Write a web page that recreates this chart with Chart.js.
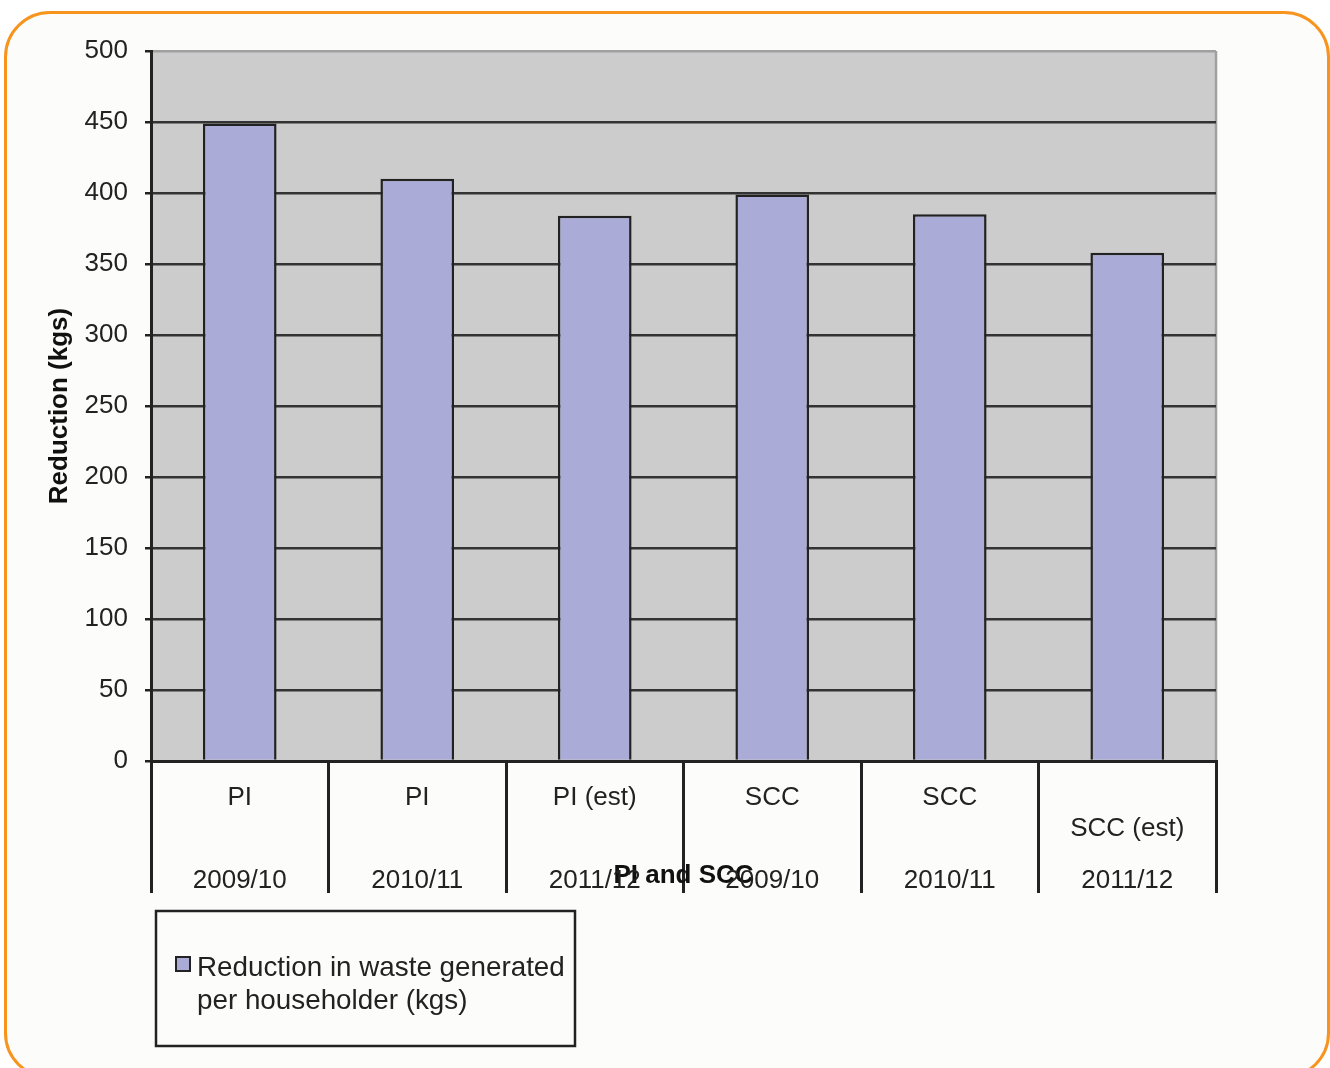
<!DOCTYPE html>
<html>
<head>
<meta charset="utf-8">
<script src="https://cdn.jsdelivr.net/npm/chart.js@4/dist/chart.umd.min.js"></script>
<style>
  html, body { margin: 0; padding: 0; background: #ffffff; overflow: hidden; }
  #frame {
    position: absolute; left: 4px; top: 11px; width: 1320px; height: 1062px;
    border: 3px solid #f7941e; border-radius: 46px; background: #fcfcfa;
  }
  #c { position: absolute; left: 0; top: 0; }
</style>
</head>
<body>
<div id="frame"></div>
<canvas id="c" width="1330" height="1068"></canvas>
<script>
// ---- data ----
const groups = ["PI", "PI", "PI (est)", "SCC", "SCC", "SCC (est)"];
const years = ["2009/10", "2010/11", "2011/12", "2009/10", "2010/11", "2011/12"];
const values = [449, 410, 384, 399, 385, 358];
const seriesLabel = "Reduction in waste generated per householder (kgs)";
const yTitle = "Reduction (kgs)";
const xTitle = "PI and SCC";

// multi-line category labels (group on top, year at bottom)
const labels = groups.map((g, i) => {
  const lines = new Array(9).fill("");
  lines[g === "SCC (est)" ? 3 : 0] = g;
  lines[8] = years[i];
  return lines;
});

const FONT = "'Liberation Sans', Arial, Helvetica, sans-serif";
const BAR = "#aaabd6";
const INK = "#222222";

const plotBg = {
  id: "plotBg",
  beforeDraw(chart) {
    const { ctx, chartArea: a } = chart;
    ctx.save();
    ctx.fillStyle = "#cccccc";
    ctx.fillRect(a.left, a.top, a.right - a.left, a.bottom - a.top);
    ctx.strokeStyle = "#a0a0a0";
    ctx.lineWidth = 2.5;
    ctx.beginPath();
    ctx.moveTo(a.right, a.top);
    ctx.lineTo(a.right, a.bottom);
    ctx.stroke();
    ctx.restore();
  }
};

const boxLegend = {
  id: "boxLegend",
  afterDraw(chart) {
    const { ctx, chartArea: a } = chart;
    const ds = chart.data.datasets[0];
    const x = a.left + 5, y = a.bottom + 150, w = 419, h = 135;
    ctx.save();
    ctx.fillStyle = "#fcfcfa";
    ctx.fillRect(x, y, w, h);
    ctx.strokeStyle = INK;
    ctx.lineWidth = 2.5;
    ctx.strokeRect(x, y, w, h);
    // swatch
    ctx.fillStyle = ds.backgroundColor;
    ctx.fillRect(x + 20, y + 46, 14, 14);
    ctx.lineWidth = 2;
    ctx.strokeRect(x + 20, y + 46, 14, 14);
    // wrapped text
    ctx.font = "27.8px " + FONT;
    ctx.fillStyle = INK;
    ctx.textBaseline = "alphabetic";
    const words = ds.label.split(" ");
    const lines = [];
    let cur = "";
    words.forEach(wd => {
      const t = cur ? cur + " " + wd : wd;
      if (ctx.measureText(t).width > 385 && cur) { lines.push(cur); cur = wd; }
      else cur = t;
    });
    if (cur) lines.push(cur);
    lines.forEach((ln, i) => ctx.fillText(ln, x + 41, y + 65 + i * 33));
    ctx.restore();
  }
};

new Chart(document.getElementById("c"), {
  type: "bar",
  data: {
    labels: labels,
    datasets: [{
      label: seriesLabel,
      data: values,
      backgroundColor: BAR,
      borderColor: INK,
      borderWidth: 2.5,
      categoryPercentage: 1.0,
      barPercentage: 0.415
    }]
  },
  options: {
    responsive: false,
    devicePixelRatio: 1,
    animation: false,
    layout: { padding: { top: 51, right: 114, left: 0, bottom: 0 } },
    plugins: { legend: { display: false }, tooltip: { enabled: false } },
    scales: {
      x: {
        offset: true,
        grid: {
          offset: true,
          drawOnChartArea: false,
          drawTicks: true,
          tickLength: 132,
          tickColor: INK,
          tickWidth: 3,
          lineWidth: 3
        },
        border: { display: true, color: INK, width: 3 },
        ticks: {
          autoSkip: false,
          maxRotation: 0,
          minRotation: 0,
          padding: -100,
          color: INK,
          font: { family: FONT, size: 26, lineHeight: "10.375px" }
        },
        title: {
          display: true,
          text: xTitle,
          color: "#111",
          font: { family: FONT, size: 26, weight: "bold", lineHeight: 1.2 },
          padding: { top: 0, bottom: 177 }
        },
        afterFit(scale) { scale.height = 1068 - 761; }
      },
      y: {
        min: 0,
        max: 500,
        ticks: {
          stepSize: 50,
          padding: 17,
          color: INK,
          font: { family: FONT, size: 26 }
        },
        grid: {
          color: ctx => (ctx.tick && ctx.tick.value === 500 ? "#a0a0a0" : "#333333"),
          lineWidth: 2.5,
          tickColor: INK,
          tickLength: 6,
          tickWidth: 2.5
        },
        border: { display: true, color: INK, width: 3 },
        title: {
          display: true,
          text: yTitle,
          color: "#111",
          font: { family: FONT, size: 26, weight: "bold", lineHeight: 1.2 },
          padding: { top: 44, bottom: 0 }
        },
        afterFit(scale) { scale.width = 151; }
      }
    }
  },
  plugins: [plotBg, boxLegend]
});
</script>
</body>
</html>
